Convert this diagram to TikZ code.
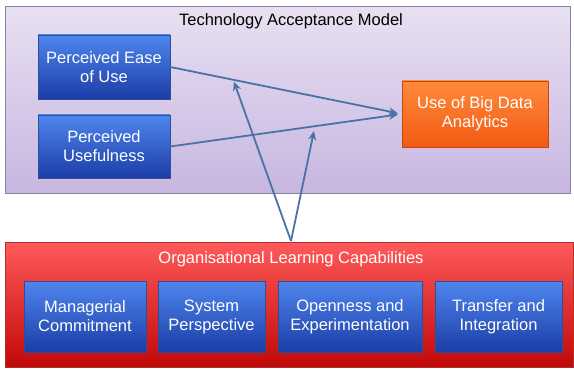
\documentclass[tikz,border=0pt]{standalone}
\usepackage{fontspec}
\setmainfont{Liberation Sans}
\usetikzlibrary{arrows.meta}
\definecolor{linec}{HTML}{4A72A6}
\definecolor{purpT}{HTML}{E8E0F2}
\definecolor{purpB}{HTML}{C7B6E0}
\definecolor{purpD}{HTML}{8A84A0}
\definecolor{blueT}{HTML}{4F86EE}
\definecolor{blueB}{HTML}{1B3DA6}
\definecolor{blueD}{HTML}{2E4E9A}
\definecolor{orT}{HTML}{FF8A3C}
\definecolor{orB}{HTML}{F25A12}
\definecolor{redT}{HTML}{FF5A5A}
\definecolor{redB}{HTML}{C20808}
\definecolor{redD}{HTML}{B03030}
\tikzset{
  txt/.style={font=\fontsize{16.5}{19}\selectfont, align=center},
  bluebox/.style={txt, shade, top color=blueT, bottom color=blueB, draw=blueD, line width=0.6pt, text=white, inner sep=0pt},
  orbox/.style={txt, shade, top color=orT, bottom color=orB, draw=orB!80!black, line width=0.4pt, text=white, inner sep=0pt},
  frame/.style={shade, top color=purpT, bottom color=purpB, draw=purpD, line width=1pt},
  redframe/.style={shade, top color=redT, bottom color=redB, draw=redD, line width=0.8pt},
  conn/.style={draw=linec, line width=1.8pt, -{Stealth[length=9pt,width=8pt]}}
}
\begin{document}
\begin{tikzpicture}[x=1pt,y=-1pt]
\useasboundingbox (0,0) rectangle (574,369);
\fill[white] (0,0) rectangle (574,369);
% frames
\path[frame] (5,7) rectangle (570,194);
\path[redframe] (5,242) rectangle (573,367);
\node[txt, anchor=base] (tam) at (291,26) {Technology Acceptance Model};
\node[txt, anchor=base, text=white] (olc) at (291,263) {Organisational Learning Capabilities};
% TAM boxes
\node[bluebox, minimum width=132pt, minimum height=64pt] (ease) at (104,67) {Perceived Ease\\of Use};
\node[bluebox, minimum width=132pt, minimum height=63pt] (useful) at (104,146.5) {Perceived\\Usefulness};
\node[orbox, minimum width=146pt, minimum height=66pt] (use) at (475,114) {Use of Big Data\\Analytics};
% OLC boxes
\node[bluebox, minimum width=122pt, minimum height=71pt] (mc) at (85,316.5) {Managerial\\Commitment};
\node[bluebox, minimum width=107pt, minimum height=71pt] (sp) at (211.5,316.5) {System\\Perspective};
\node[bluebox, minimum width=144pt, minimum height=71pt] (oe) at (350,316.5) {Openness and\\Experimentation};
\node[bluebox, minimum width=127pt, minimum height=71pt] (ti) at (498.5,316.5) {Transfer and\\Integration};
% connectors
\path (ease.east) -- (use.west) coordinate[pos=0.272] (p1);
\path (useful.east) -- (use.west) coordinate[pos=0.625] (p2);
\coordinate (apex) at (291,241);
\draw[conn, shorten >=4pt] (ease.east) -- (use.west);
\draw[conn, shorten >=4pt] (useful.east) -- (use.west);
\draw[conn, shorten >=2pt] (apex) -- (p1);
\draw[conn, shorten >=5pt] (apex) -- (p2);
\end{tikzpicture}
\end{document}
